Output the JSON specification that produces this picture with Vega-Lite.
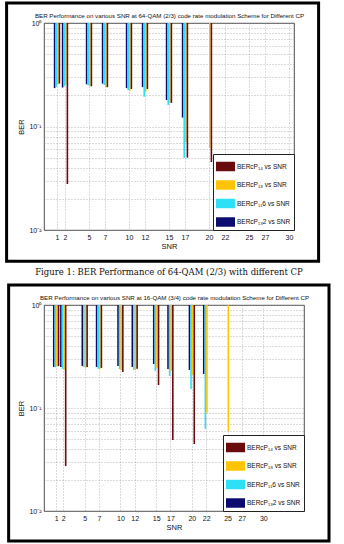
{
  "$schema": "https://vega.github.io/schema/vega-lite/v6.json",
  "padding": {"left": 4, "top": 1, "right": 0, "bottom": 0},
  "background": "white",
  "config": {
    "font": "Liberation Sans",
    "view": {"stroke": "#222", "strokeWidth": 0.8},
    "axis": {"labelFont": "Liberation Sans", "labelFontSize": 7, "labelColor": "#111", "titleFont": "Liberation Sans", "titleFontSize": 7.5, "titleFontWeight": "normal", "titleColor": "#111", "domain": false, "ticks": false, "gridColor": "#888", "gridDash": [1, 2], "gridWidth": 0.6},
    "legend": {"orient": "bottom-right", "offset": 0, "strokeColor": "#222", "fillColor": "white", "padding": 3, "symbolType": "M-1,-0.5H1V0.5H-1Z", "symbolSize": 360, "symbolStrokeWidth": 0, "labelFont": "Liberation Sans", "labelFontSize": 6.5, "labelColor": "#111", "rowPadding": 3.5, "labelOffset": 2}
  },
  "datasets": {
    "d64": [
      {"snr": 1, "series": "BERᴄP₁₃2 vs SNR", "ber": 0.235}, {"snr": 1, "series": "BERᴄP₁₁6 vs SNR", "ber": 0.242}, {"snr": 1, "series": "BERᴄP₁₈ vs SNR", "ber": 0.255}, {"snr": 1, "series": "BERᴄP₁₄ vs SNR", "ber": 0.26},
      {"snr": 2, "series": "BERᴄP₁₃2 vs SNR", "ber": 0.238}, {"snr": 2, "series": "BERᴄP₁₁6 vs SNR", "ber": 0.245}, {"snr": 2, "series": "BERᴄP₁₈ vs SNR", "ber": 0.25}, {"snr": 2, "series": "BERᴄP₁₄ vs SNR", "ber": 0.0278},
      {"snr": 5, "series": "BERᴄP₁₃2 vs SNR", "ber": 0.256}, {"snr": 5, "series": "BERᴄP₁₁6 vs SNR", "ber": 0.25}, {"snr": 5, "series": "BERᴄP₁₈ vs SNR", "ber": 0.245}, {"snr": 5, "series": "BERᴄP₁₄ vs SNR", "ber": 0.245},
      {"snr": 7, "series": "BERᴄP₁₃2 vs SNR", "ber": 0.26}, {"snr": 7, "series": "BERᴄP₁₁6 vs SNR", "ber": 0.252}, {"snr": 7, "series": "BERᴄP₁₈ vs SNR", "ber": 0.24}, {"snr": 7, "series": "BERᴄP₁₄ vs SNR", "ber": 0.24},
      {"snr": 10, "series": "BERᴄP₁₃2 vs SNR", "ber": 0.235}, {"snr": 10, "series": "BERᴄP₁₁6 vs SNR", "ber": 0.225}, {"snr": 10, "series": "BERᴄP₁₈ vs SNR", "ber": 0.22}, {"snr": 10, "series": "BERᴄP₁₄ vs SNR", "ber": 0.23},
      {"snr": 12, "series": "BERᴄP₁₃2 vs SNR", "ber": 0.24}, {"snr": 12, "series": "BERᴄP₁₁6 vs SNR", "ber": 0.194}, {"snr": 12, "series": "BERᴄP₁₈ vs SNR", "ber": 0.217}, {"snr": 12, "series": "BERᴄP₁₄ vs SNR", "ber": 0.23},
      {"snr": 15, "series": "BERᴄP₁₃2 vs SNR", "ber": 0.18}, {"snr": 15, "series": "BERᴄP₁₁6 vs SNR", "ber": 0.161}, {"snr": 15, "series": "BERᴄP₁₈ vs SNR", "ber": 0.169}, {"snr": 15, "series": "BERᴄP₁₄ vs SNR", "ber": 0.169},
      {"snr": 17, "series": "BERᴄP₁₃2 vs SNR", "ber": 0.122}, {"snr": 17, "series": "BERᴄP₁₁6 vs SNR", "ber": 0.0496}, {"snr": 17, "series": "BERᴄP₁₈ vs SNR", "ber": 0.07}, {"snr": 17, "series": "BERᴄP₁₄ vs SNR", "ber": 0.05},
      {"snr": 20, "series": "BERᴄP₁₈ vs SNR", "ber": 0.062}, {"snr": 20, "series": "BERᴄP₁₄ vs SNR", "ber": 0.0454}
    ],
    "d16": [
      {"snr": 1, "series": "BERᴄP₁₃2 vs SNR", "ber": 0.25}, {"snr": 1, "series": "BERᴄP₁₁6 vs SNR", "ber": 0.248}, {"snr": 1, "series": "BERᴄP₁₈ vs SNR", "ber": 0.255}, {"snr": 1, "series": "BERᴄP₁₄ vs SNR", "ber": 0.255},
      {"snr": 2, "series": "BERᴄP₁₃2 vs SNR", "ber": 0.25}, {"snr": 2, "series": "BERᴄP₁₁6 vs SNR", "ber": 0.24}, {"snr": 2, "series": "BERᴄP₁₈ vs SNR", "ber": 0.235}, {"snr": 2, "series": "BERᴄP₁₄ vs SNR", "ber": 0.0273},
      {"snr": 5, "series": "BERᴄP₁₃2 vs SNR", "ber": 0.256}, {"snr": 5, "series": "BERᴄP₁₁6 vs SNR", "ber": 0.25}, {"snr": 5, "series": "BERᴄP₁₈ vs SNR", "ber": 0.245}, {"snr": 5, "series": "BERᴄP₁₄ vs SNR", "ber": 0.25},
      {"snr": 7, "series": "BERᴄP₁₃2 vs SNR", "ber": 0.25}, {"snr": 7, "series": "BERᴄP₁₁6 vs SNR", "ber": 0.24}, {"snr": 7, "series": "BERᴄP₁₈ vs SNR", "ber": 0.238}, {"snr": 7, "series": "BERᴄP₁₄ vs SNR", "ber": 0.245},
      {"snr": 10, "series": "BERᴄP₁₃2 vs SNR", "ber": 0.256}, {"snr": 10, "series": "BERᴄP₁₁6 vs SNR", "ber": 0.239}, {"snr": 10, "series": "BERᴄP₁₈ vs SNR", "ber": 0.234}, {"snr": 10, "series": "BERᴄP₁₄ vs SNR", "ber": 0.224},
      {"snr": 12, "series": "BERᴄP₁₃2 vs SNR", "ber": 0.25}, {"snr": 12, "series": "BERᴄP₁₁6 vs SNR", "ber": 0.234}, {"snr": 12, "series": "BERᴄP₁₈ vs SNR", "ber": 0.234}, {"snr": 12, "series": "BERᴄP₁₄ vs SNR", "ber": 0.24},
      {"snr": 15, "series": "BERᴄP₁₃2 vs SNR", "ber": 0.267}, {"snr": 15, "series": "BERᴄP₁₁6 vs SNR", "ber": 0.229}, {"snr": 15, "series": "BERᴄP₁₈ vs SNR", "ber": 0.245}, {"snr": 15, "series": "BERᴄP₁₄ vs SNR", "ber": 0.167},
      {"snr": 17, "series": "BERᴄP₁₃2 vs SNR", "ber": 0.239}, {"snr": 17, "series": "BERᴄP₁₁6 vs SNR", "ber": 0.205}, {"snr": 17, "series": "BERᴄP₁₈ vs SNR", "ber": 0.23}, {"snr": 17, "series": "BERᴄP₁₄ vs SNR", "ber": 0.0489},
      {"snr": 20, "series": "BERᴄP₁₃2 vs SNR", "ber": 0.234}, {"snr": 20, "series": "BERᴄP₁₁6 vs SNR", "ber": 0.153}, {"snr": 20, "series": "BERᴄP₁₈ vs SNR", "ber": 0.21}, {"snr": 20, "series": "BERᴄP₁₄ vs SNR", "ber": 0.0447},
      {"snr": 22, "series": "BERᴄP₁₃2 vs SNR", "ber": 0.214}, {"snr": 22, "series": "BERᴄP₁₁6 vs SNR", "ber": 0.0625}, {"snr": 22, "series": "BERᴄP₁₈ vs SNR", "ber": 0.09},
      {"snr": 25, "series": "BERᴄP₁₈ vs SNR", "ber": 0.0598}
    ]
  },
  "concat": [
    {
      "width": 250,
      "height": 207,
      "title": {"text": "Figure 1: BER Performance of 64-QAM (2/3) with different CP", "orient": "bottom", "font": "DejaVu Serif", "fontSize": 8.5, "fontWeight": "normal", "offset": 5, "anchor": "middle", "color": "#111"},
      "layer": [
        {
          "data": {"name": "d64"},
          "encoding": {
            "x": {"field": "snr", "type": "quantitative", "scale": {"domain": [0, 30], "nice": false, "zero": false}, "axis": {"values": [1, 2, 5, 7, 10, 12, 15, 17, 20, 22, 25, 27, 30], "title": "SNR", "grid": true, "labelPadding": 3, "titlePadding": 2}},
            "y": {"field": "ber", "type": "quantitative", "scale": {"type": "log", "domain": [0.01, 1], "nice": false}, "axis": {"values": [0.01, 0.02, 0.03, 0.04, 0.05, 0.06, 0.07, 0.08, 0.09, 0.1, 0.2, 0.3, 0.4, 0.5, 0.6, 0.7, 0.8, 0.9, 1], "labelExpr": "datum.value == 1 ? '10⁰' : datum.value == 0.1 ? '10⁻¹' : datum.value == 0.01 ? '10⁻²' : ''", "title": "BER", "grid": true, "titlePadding": 3, "labelPadding": 3}},
            "y2": {"datum": 1},
            "color": {"field": "series", "type": "nominal", "scale": {"domain": ["BERᴄP₁₄ vs SNR", "BERᴄP₁₈ vs SNR", "BERᴄP₁₁6 vs SNR", "BERᴄP₁₃2 vs SNR"], "range": ["#6a0c0c", "#ffc400", "#2ee0f5", "#0c0c70"]}, "legend": {"title": null, "symbolType": "M-1,-0.5H1V0.5H-1Z", "symbolSize": 360}}
          },
          "layer": [
            {"transform": [{"filter": {"field": "series", "equal": "BERᴄP₁₃2 vs SNR"}}], "mark": {"type": "bar", "width": 1.6, "xOffset": -2.4}},
            {"transform": [{"filter": {"field": "series", "equal": "BERᴄP₁₁6 vs SNR"}}], "mark": {"type": "bar", "width": 1.6, "xOffset": -0.8}},
            {"transform": [{"filter": {"field": "series", "equal": "BERᴄP₁₈ vs SNR"}}], "mark": {"type": "bar", "width": 1.6, "xOffset": 0.8}},
            {"transform": [{"filter": {"field": "series", "equal": "BERᴄP₁₄ vs SNR"}}], "mark": {"type": "bar", "width": 1.6, "xOffset": 2.4}}
          ]
        },
        {
          "data": {"values": [{}]},
          "mark": {"type": "rect", "filled": false, "stroke": "black", "strokeWidth": 3},
          "encoding": {
            "x": {"datum": -5.3, "type": "quantitative", "axis": {"orient": "top", "title": "BER Performance on various SNR at 64-QAM (2/3) code rate modulation Scheme for Different CP", "labels": false, "ticks": false, "grid": false, "domain": false, "titlePadding": 5, "titleFontSize": 6.2}},
            "x2": {"datum": 33.7},
            "y": {"datum": 1.56, "type": "quantitative"},
            "y2": {"datum": 0.005}
          }
        }
      ],
      "resolve": {"axis": {"x": "independent"}}
    },
    {
      "width": 260,
      "height": 206,
      "layer": [
        {
          "data": {"name": "d16"},
          "encoding": {
            "x": {"field": "snr", "type": "quantitative", "scale": {"domain": [0, 35], "nice": false, "zero": false}, "axis": {"values": [1, 2, 5, 7, 10, 12, 15, 17, 20, 22, 25, 27, 30], "title": "SNR", "grid": true, "labelPadding": 3, "titlePadding": 2}},
            "y": {"field": "ber", "type": "quantitative", "scale": {"type": "log", "domain": [0.01, 1], "nice": false}, "axis": {"values": [0.01, 0.02, 0.03, 0.04, 0.05, 0.06, 0.07, 0.08, 0.09, 0.1, 0.2, 0.3, 0.4, 0.5, 0.6, 0.7, 0.8, 0.9, 1], "labelExpr": "datum.value == 1 ? '10⁰' : datum.value == 0.1 ? '10⁻¹' : datum.value == 0.01 ? '10⁻²' : ''", "title": "BER", "grid": true, "titlePadding": 3, "labelPadding": 3}},
            "y2": {"datum": 1},
            "color": {"field": "series", "type": "nominal", "scale": {"domain": ["BERᴄP₁₄ vs SNR", "BERᴄP₁₈ vs SNR", "BERᴄP₁₁6 vs SNR", "BERᴄP₁₃2 vs SNR"], "range": ["#6a0c0c", "#ffc400", "#2ee0f5", "#0c0c70"]}, "legend": {"title": null, "symbolType": "M-1,-0.5H1V0.5H-1Z", "symbolSize": 360}}
          },
          "layer": [
            {"transform": [{"filter": {"field": "series", "equal": "BERᴄP₁₃2 vs SNR"}}], "mark": {"type": "bar", "width": 1.6, "xOffset": -2.4}},
            {"transform": [{"filter": {"field": "series", "equal": "BERᴄP₁₁6 vs SNR"}}], "mark": {"type": "bar", "width": 1.6, "xOffset": -0.8}},
            {"transform": [{"filter": {"field": "series", "equal": "BERᴄP₁₈ vs SNR"}}], "mark": {"type": "bar", "width": 1.6, "xOffset": 0.8}},
            {"transform": [{"filter": {"field": "series", "equal": "BERᴄP₁₄ vs SNR"}}], "mark": {"type": "bar", "width": 1.6, "xOffset": 2.4}}
          ]
        },
        {
          "data": {"values": [{}]},
          "mark": {"type": "rect", "filled": false, "stroke": "black", "strokeWidth": 3},
          "encoding": {
            "x": {"datum": -5.65, "type": "quantitative", "axis": {"orient": "top", "title": "BER Performance on various SNR at 16-QAM (3/4) code rate modulation Scheme for Different CP", "labels": false, "ticks": false, "grid": false, "domain": false, "titlePadding": 5, "titleFontSize": 6.2}},
            "x2": {"datum": 39.2},
            "y": {"datum": 1.56, "type": "quantitative"},
            "y2": {"datum": 0.0051}
          }
        }
      ],
      "resolve": {"axis": {"x": "independent"}}
    }
  ],
  "columns": 1,
  "align": "none",
  "spacing": 6,
  "resolve": {"scale": {"x": "independent", "y": "independent"}, "legend": {"color": "independent"}}
}
